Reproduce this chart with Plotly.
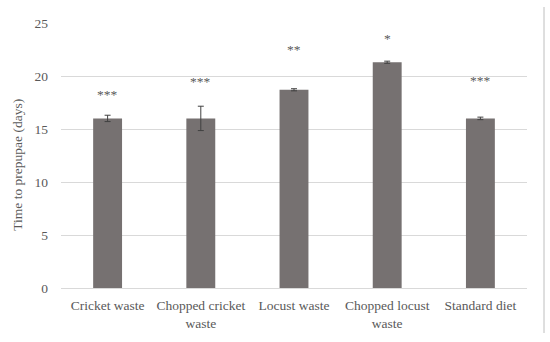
import plotly.graph_objects as go

categories = ["Cricket waste", "Chopped cricket<br>waste", "Locust waste", "Chopped locust<br>waste", "Standard diet"]
values = [16.0, 16.0, 18.7, 21.3, 16.0]
errors = [0.3, 1.15, 0.1, 0.1, 0.12]
stars = ["***", "***", "**", "*", "***"]
star_pos = [18.3, 19.5, 22.5, 23.5, 19.6]
y_ticks = [0, 5, 10, 15, 20, 25]

font_family = "Liberation Serif"

fig = go.Figure()
fig.add_trace(go.Bar(
    x=categories, y=values, width=0.31,
    marker=dict(color="#767171", line=dict(width=0)),
    error_y=dict(type="data", array=errors, visible=True, color="#404040", thickness=1, width=3),
    showlegend=False,
))

annotations = [
    dict(x=c, y=p, text=s, showarrow=False, xref="x", yref="y",
         font=dict(family=font_family, size=13.5, color="#595959"))
    for c, p, s in zip(categories, star_pos, stars)
]
annotations.append(dict(x=-0.094, y=0.466, xref="paper", yref="paper", text="Time to prepupae (days)",
                        textangle=-90, showarrow=False, xanchor="center", yanchor="middle",
                        font=dict(family=font_family, size=13.5, color="#595959")))

fig.update_layout(
    width=550, height=342,
    margin=dict(l=61, r=23, t=23, b=54),
    paper_bgcolor="white", plot_bgcolor="white",
    font=dict(family=font_family, size=13.5, color="#595959"),
    xaxis=dict(showgrid=False, showline=True, linecolor="#d9d9d9", linewidth=1,
               ticks="", automargin=False, ticklabelstandoff=5,
               tickfont=dict(size=13.5, color="#595959")),
    yaxis=dict(range=[0, 25], tickvals=y_ticks, showgrid=True, gridcolor="#d9d9d9",
               gridwidth=1, zeroline=False, showline=False, ticks="", automargin=False,
               ticklabelstandoff=12,
               tickfont=dict(size=13.5, color="#595959")),
    annotations=annotations,
    shapes=[dict(type="line", xref="paper", yref="paper", x0=1.0365, x1=1.0365, y0=-0.17, y1=1.06,
                 line=dict(color="#d4d4d4", width=1.5), layer="above")],
)

fig.write_html("out.html", config={"displayModeBar": False},
               post_script="document.body.style.margin='0px';document.body.style.padding='0px';")
